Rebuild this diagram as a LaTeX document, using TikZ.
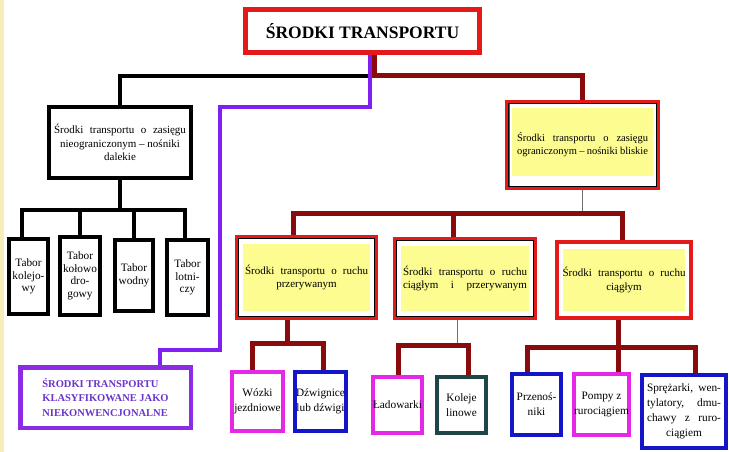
\documentclass[tikz,border=0pt]{standalone}
\usepackage{fontspec}
\setmainfont{Liberation Serif}
\usetikzlibrary{backgrounds}
\definecolor{cred}{HTML}{E41A1A}
\definecolor{cdr}{HTML}{8A0B0B}
\definecolor{cpur}{HTML}{8020F0}
\definecolor{cpurbox}{HTML}{8B2BE8}
\definecolor{cpurtxt}{HTML}{6A35C8}
\definecolor{cmag}{HTML}{E628E6}
\definecolor{cblue}{HTML}{1414C8}
\definecolor{cteal}{HTML}{1E4646}
\definecolor{cyel}{HTML}{FCFC90}
\definecolor{cgray}{HTML}{707070}
\definecolor{cstripe}{HTML}{F6EDB8}
\begin{document}
\begin{tikzpicture}[x=1pt,y=-1pt,
  box/.style={draw, inner sep=0pt, align=center, line width=4pt},
  bt/.style={font=\fontsize{11}{13.5}\selectfont},
  sm/.style={font=\fontsize{11.3}{15}\selectfont},
  tb/.style={font=\fontsize{11.3}{12.5}\selectfont},
  blk/.style={line width=4pt, black, line cap=rect},
  drl/.style={line width=5pt, cdr, line cap=rect},
  pur/.style={line width=4pt, cpur, line cap=rect},
  gry/.style={line width=0.9pt, cgray},
  inner/.style={line width=0.7pt, black}
]
\useasboundingbox (0,0) rectangle (729,452);

% title
\node[box, draw=cred, line width=5pt, fill=white, minimum width=234pt, minimum height=43pt,
  font=\fontsize{17.5}{20}\selectfont\bfseries] (top) at (362.5,31) {ŚRODKI TRANSPORTU};

% left branch
\node[box, bt, fill=white, minimum width=142pt, minimum height=71pt] (L) at (120,142.5)
  {\makebox[132pt][s]{Środki transportu o zasięgu}\\nieograniczonym – nośniki\\dalekie};
\node[box, tb, fill=white, minimum width=39pt, minimum height=75pt] (T1) at (28.5,276.5) {Tabor\\kolejo-\\wy};
\node[box, tb, fill=white, minimum width=40pt, minimum height=78pt] (T2) at (80,276) {Tabor\\kołowo\\dro-\\gowy};
\node[box, tb, fill=white, minimum width=38pt, minimum height=71pt] (T3) at (134,275.5) {Tabor\\wodny};
\node[box, tb, fill=white, minimum width=41pt, minimum height=75pt] (T4) at (187.5,277.5) {Tabor\\lotni-\\czy};

% right branch
\node[box, draw=cred, line width=4.5pt, minimum width=150.5pt, minimum height=85.5pt,
  font=\fontsize{10.5}{13}\selectfont] (R) at (582.5,145)
  {\makebox[131pt][s]{Środki transportu o zasięgu}\\\makebox[131pt][s]{ograniczonym – nośniki bliskie}};
\node[box, bt, draw=cred, minimum width=139pt, minimum height=81pt] (A) at (306.5,277.5)
  {\makebox[123pt][s]{Środki transportu o ruchu}\\przerywanym};
\node[box, bt, draw=cred, minimum width=140pt, minimum height=79pt] (B) at (465,278.5)
  {\makebox[124pt][s]{Środki transportu o ruchu}\\\makebox[124pt][s]{ciągłym i przerywanym}};
\node[box, bt, draw=cred, minimum width=134pt, minimum height=76pt] (C) at (624,280)
  {\makebox[123pt][s]{Środki transportu o ruchu}\\ciągłym};

% purple box
\node[box, draw=cpurbox, line width=4.5pt, fill=white, minimum width=170.5pt, minimum height=60.5pt,
  align=left, text=cpurtxt, font=\fontsize{10.5}{14.5}\selectfont\bfseries] (P) at (105.5,397.5)
  {ŚRODKI TRANSPORTU\\KLASYFIKOWANE JAKO\\NIEKONWENCJONALNE};

% bottom boxes
\node[box, sm, draw=cmag, fill=white, minimum width=51pt, minimum height=59pt] (W) at (257.5,401.5) {Wózki\\jezdniowe};
\node[box, sm, draw=cblue, fill=white, minimum width=51pt, minimum height=59pt] (D) at (320.5,401.5) {Dźwignice\\lub dźwigi};
\node[box, sm, draw=cmag, fill=white, minimum width=47pt, minimum height=56pt] (LA) at (397.5,405) {Ładowarki};
\node[box, sm, draw=cteal, fill=white, minimum width=49pt, minimum height=56pt] (K) at (461.5,405) {Koleje\\linowe};
\node[box, sm, draw=cblue, fill=white, minimum width=49pt, minimum height=61pt] (PZ) at (536.5,404.5) {Przenoś-\\niki};
\node[box, sm, draw=cmag, fill=white, minimum width=49pt, minimum height=61pt] (PO) at (601.5,404.5) {Pompy z\\rurociągiem};
\node[box, sm, draw=cblue, fill=white, minimum width=84pt, minimum height=73pt] (S) at (684,411.5)
  {\makebox[74pt][s]{Sprężarki, wen-}\\\makebox[74pt][s]{tylatory, dmu-}\\\makebox[74pt][s]{chawy z ruro-}\\ciągiem};

% inner thin lines
\draw[inner] ([shift={(3.4,3.4)}]R.north west) rectangle ([shift={(-3.4,-3.4)}]R.south east);
\draw[inner] ([shift={(3.2,3.2)}]A.north west) rectangle ([shift={(-3.2,-3.2)}]A.south east);
\draw[inner] ([shift={(3.2,3.2)}]B.north west) rectangle ([shift={(-3.2,-3.2)}]B.south east);

% junction coordinates
\coordinate (jb) at (370,76);
\coordinate (jr) at (374,76);
\coordinate (p1) at (370,107);
\coordinate (p2) at (220,107);
\coordinate (p3) at (220,350);
\coordinate (p4) at (160,350);
\coordinate (hl1) at (22,210);
\coordinate (hl2) at (185,210);
\coordinate (hr1) at (293,213);
\coordinate (hrm) at (453,213);
\coordinate (hr2) at (622,213);
\coordinate (a0) at (287,343);
\coordinate (a1) at (252,343);
\coordinate (a2) at (323,343);
\coordinate (b0) at (457,345);
\coordinate (b1) at (398,345);
\coordinate (b2) at (468,345);
\coordinate (c0) at (618,347);
\coordinate (c1) at (527,347);
\coordinate (c2) at (695,347);

\begin{pgfonlayer}{background}
  \fill[cstripe] (0,0) rectangle (4,452);
  % yellow highlights
  \fill[cyel] ([shift={(7,8)}]R.north west) rectangle ([shift={(-7,-14)}]R.south east);
  \fill[cyel] ([shift={(8,9)}]A.north west) rectangle ([shift={(-8,-9)}]A.south east);
  \fill[cyel] ([shift={(8,9)}]B.north west) rectangle ([shift={(-8,-9)}]B.south east);
  \fill[cyel] ([shift={(8,9)}]C.north west) rectangle ([shift={(-8,-9)}]C.south east);
  % black tree
  \draw[blk] (jb) -| (L.north);
  \draw[blk] (L.south) -- (L.south |- hl1);
  \draw[blk] (hl1) -- (hl2);
  \draw[blk] (hl1) -- (hl1 |- T1.north);
  \draw[blk] (T2.north |- hl1) -- (T2.north);
  \draw[blk] (T3.north |- hl1) -- (T3.north);
  \draw[blk] (hl2) -- (hl2 |- T4.north);
  % dark red tree
  \draw[drl] (top.south -| jr) -- (jr) -| (R.north);
  \draw[gry] (R.south) -- (R.south |- hr1);
  \draw[drl] (hr1) -- (hr2);
  \draw[drl] (hr1) -- (hr1 |- A.north);
  \draw[drl] (hrm) -- (hrm |- B.north);
  \draw[drl] (hr2) -- (hr2 |- C.north);
  \draw[drl] (a0 |- A.south) -- (a0);
  \draw[drl] (a1) -- (a2);
  \draw[drl] (a1) -- (a1 |- W.north);
  \draw[drl] (a2) -- (a2 |- D.north);
  \draw[gry] (b0 |- B.south) -- (b0);
  \draw[drl] (b1) -- (b2);
  \draw[drl] (b1) -- (b1 |- LA.north);
  \draw[drl] (b2) -- (b2 |- K.north);
  \draw[drl] (c0 |- C.south) -- (c0 |- PO.north);
  \draw[drl] (c1) -- (c2);
  \draw[drl] (c1) -- (c1 |- PZ.north);
  \draw[drl] (c2) -- (c2 |- S.north);
  % purple connector
  \draw[pur] (top.south -| p1) -- (p1) -- (p2) -- (p3) -- (p4) -- (P.north -| p4);
\end{pgfonlayer}
\end{tikzpicture}
\end{document}
